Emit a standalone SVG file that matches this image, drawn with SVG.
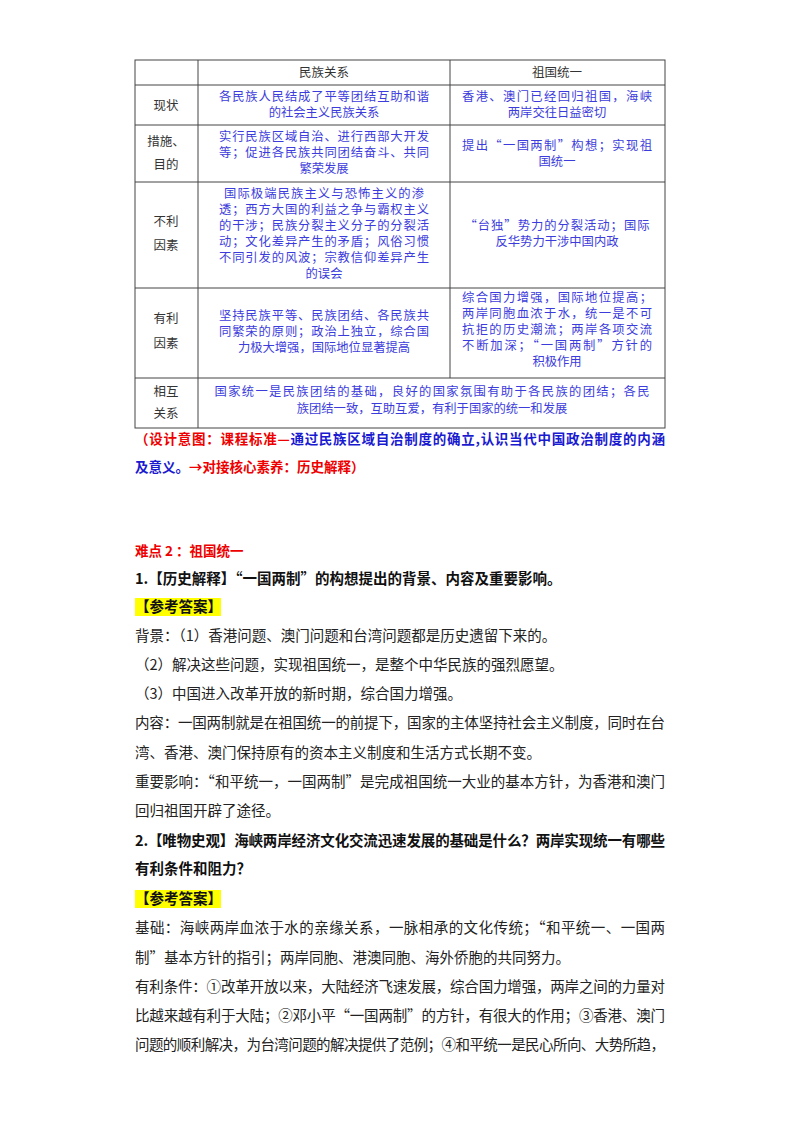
<svg xmlns="http://www.w3.org/2000/svg" width="800" height="1132" viewBox="0 0 800 1132">
<style>
text{font-family:"Noto Sans CJK SC","Liberation Serif",serif;}
.t{font-size:12.3px;fill:#3c3cdc;}
.h{font-size:12.5px;fill:#333;}
.b{font-size:14.5px;fill:#222;}
.bb{font-size:14.5px;fill:#111;font-weight:bold;}
.g line{stroke:#444;stroke-width:1;}
</style>
<rect width="800" height="1132" fill="#fff"/>
<g id="table" class="g">
<rect x="135" y="60" width="530" height="368" fill="none" stroke="#444"/>
<line x1="198" y1="60" x2="198" y2="428"/>
<line x1="450" y1="60" x2="450" y2="378"/>
<line x1="135" y1="85" x2="665" y2="85"/>
<line x1="135" y1="125" x2="665" y2="125"/>
<line x1="135" y1="182" x2="665" y2="182"/>
<line x1="135" y1="288" x2="665" y2="288"/>
<line x1="135" y1="378" x2="665" y2="378"/>
</g>
<g id="cells" text-anchor="middle">
<text class="h" x="324" y="77">民族关系</text>
<text class="h" x="557" y="77">祖国统一</text>
<text class="h" x="166" y="110">现状</text>
<text class="t" x="324" y="101" textLength="210">各民族人民结成了平等团结互助和谐</text>
<text class="t" x="324" y="117">的社会主义民族关系</text>
<text class="t" x="557" y="101" textLength="190">香港、澳门已经回归祖国，海峡</text>
<text class="t" x="557" y="117">两岸交往日益密切</text>
<text class="h" x="166" y="146">措施、</text>
<text class="h" x="166" y="169">目的</text>
<text class="t" x="324" y="141" textLength="210">实行民族区域自治、进行西部大开发</text>
<text class="t" x="324" y="157" textLength="210">等；促进各民族共同团结奋斗、共同</text>
<text class="t" x="324" y="173">繁荣发展</text>
<text class="t" x="557" y="150" textLength="190">提出“一国两制”构想；实现祖</text>
<text class="t" x="557" y="166">国统一</text>
<text class="h" x="166" y="226">不利</text>
<text class="h" x="166" y="250">因素</text>
<text class="t" x="324" y="198" textLength="200">国际极端民族主义与恐怖主义的渗</text>
<text class="t" x="324" y="214" textLength="210">透；西方大国的利益之争与霸权主义</text>
<text class="t" x="324" y="230" textLength="210">的干涉；民族分裂主义分子的分裂活</text>
<text class="t" x="324" y="246" textLength="210">动；文化差异产生的矛盾；风俗习惯</text>
<text class="t" x="324" y="262" textLength="210">不同引发的风波；宗教信仰差异产生</text>
<text class="t" x="324" y="278">的误会</text>
<text class="t" x="557" y="230" textLength="185">“台独”势力的分裂活动；国际</text>
<text class="t" x="557" y="246">反华势力干涉中国内政</text>
<text class="h" x="166" y="323">有利</text>
<text class="h" x="166" y="348">因素</text>
<text class="t" x="324" y="320" textLength="210">坚持民族平等、民族团结、各民族共</text>
<text class="t" x="324" y="336" textLength="210">同繁荣的原则；政治上独立，综合国</text>
<text class="t" x="324" y="352">力极大增强，国际地位显著提高</text>
<text class="t" x="557" y="302" textLength="190">综合国力增强，国际地位提高；</text>
<text class="t" x="557" y="318" textLength="190">两岸同胞血浓于水，统一是不可</text>
<text class="t" x="557" y="334" textLength="190">抗拒的历史潮流；两岸各项交流</text>
<text class="t" x="557" y="350" textLength="190">不断加深；“一国两制”方针的</text>
<text class="t" x="557" y="366">积极作用</text>
<text class="h" x="166" y="396">相互</text>
<text class="h" x="166" y="418">关系</text>
<text class="t" x="432" y="396" textLength="435">国家统一是民族团结的基础，良好的国家氛围有助于各民族的团结；各民</text>
<text class="t" x="432" y="413">族团结一致，互助互爱，有利于国家的统一和发展</text>
</g>
<g id="body">
<text x="135" y="444" font-size="13.5" font-weight="bold" textLength="530" lengthAdjust="spacing"><tspan fill="#e00">（设计意图：课程标准—</tspan><tspan fill="#1a1ad0">通过民族区域自治制度的确立,认识当代中国政治制度的内涵</tspan></text>
<text x="135" y="472" font-size="13.5" font-weight="bold"><tspan fill="#1a1ad0">及意义。</tspan><tspan fill="#e00">→对接核心素养：历史解释）</tspan></text>
<text x="135" y="556" font-size="13.5" font-weight="bold" fill="#e00">难点 2 ：祖国统一</text>
<text class="bb" x="135" y="584">1.【历史解释】“一国两制”的构想提出的背景、内容及重要影响。</text>
<rect x="135" y="598" width="86" height="18" fill="#ffff00"/>
<text class="bb" x="135" y="612">【参考答案】</text>
<text class="b" x="135" y="641">背景：（1）香港问题、澳门问题和台湾问题都是历史遗留下来的。</text>
<text class="b" x="135" y="670">（2）解决这些问题，实现祖国统一，是整个中华民族的强烈愿望。</text>
<text class="b" x="135" y="699">（3）中国进入改革开放的新时期，综合国力增强。</text>
<text class="b" x="135" y="728" textLength="530" lengthAdjust="spacing">内容：一国两制就是在祖国统一的前提下，国家的主体坚持社会主义制度，同时在台</text>
<text class="b" x="135" y="758">湾、香港、澳门保持原有的资本主义制度和生活方式长期不变。</text>
<text class="b" x="135" y="787" textLength="530" lengthAdjust="spacing">重要影响：“和平统一，一国两制”是完成祖国统一大业的基本方针，为香港和澳门</text>
<text class="b" x="135" y="816">回归祖国开辟了途径。</text>
<text class="bb" x="135" y="846" textLength="530" lengthAdjust="spacing">2.【唯物史观】海峡两岸经济文化交流迅速发展的基础是什么？两岸实现统一有哪些</text>
<text class="bb" x="135" y="874">有利条件和阻力？</text>
<rect x="135" y="890" width="86" height="18" fill="#ffff00"/>
<text class="bb" x="135" y="904">【参考答案】</text>
<text class="b" x="135" y="933" textLength="530" lengthAdjust="spacing">基础：海峡两岸血浓于水的亲缘关系，一脉相承的文化传统；“和平统一、一国两</text>
<text class="b" x="135" y="963">制”基本方针的指引；两岸同胞、港澳同胞、海外侨胞的共同努力。</text>
<text class="b" x="135" y="992" textLength="530" lengthAdjust="spacing">有利条件：①改革开放以来，大陆经济飞速发展，综合国力增强，两岸之间的力量对</text>
<text class="b" x="135" y="1021" textLength="530" lengthAdjust="spacing">比越来越有利于大陆；②邓小平“一国两制”的方针，有很大的作用；③香港、澳门</text>
<text class="b" x="135" y="1050" textLength="530" lengthAdjust="spacing">问题的顺利解决，为台湾问题的解决提供了范例；④和平统一是民心所向、大势所趋，</text>
</g>
</svg>
